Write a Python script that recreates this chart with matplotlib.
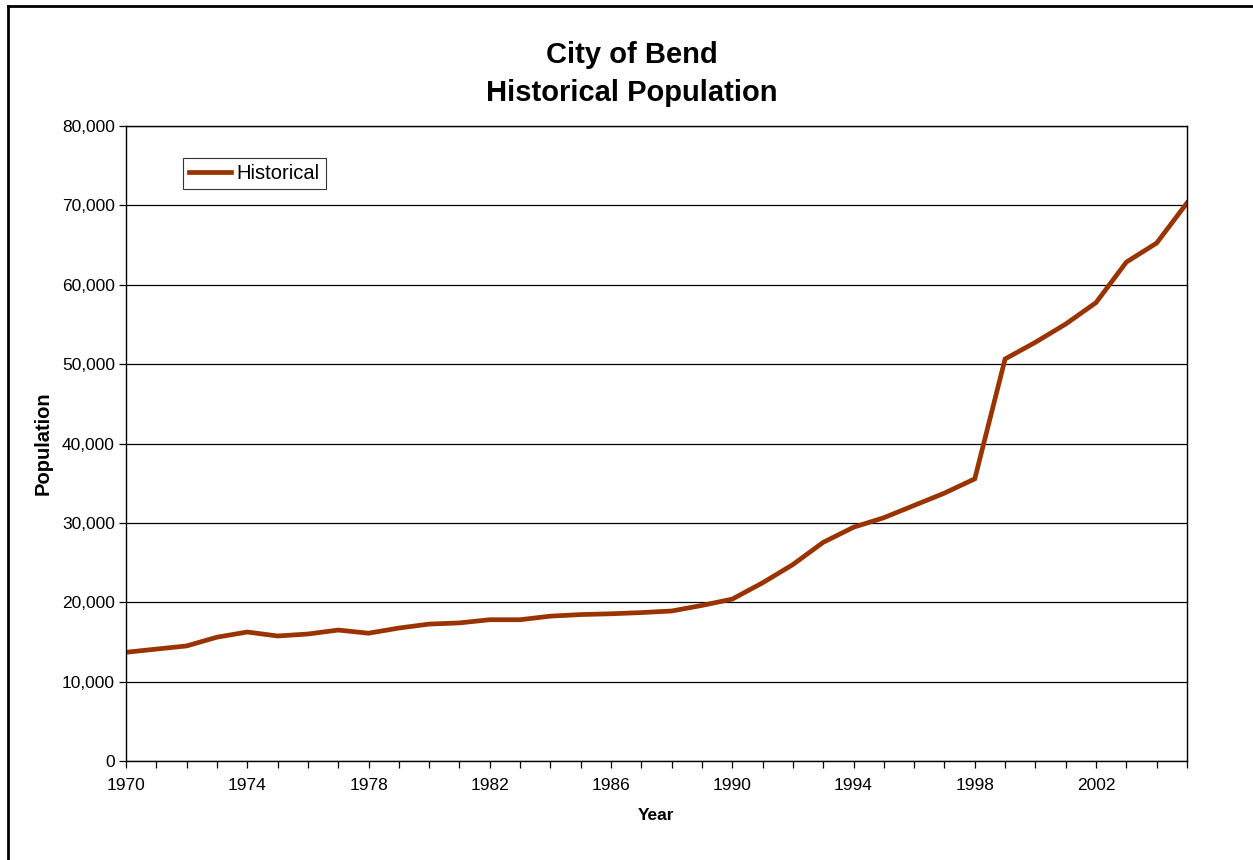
import matplotlib
matplotlib.use("Agg")
import matplotlib.pyplot as plt
from matplotlib.lines import Line2D
from matplotlib.ticker import FuncFormatter, MultipleLocator

years = list(range(1970, 2006))
population = [
    13700, 14100, 14500, 15600, 16250, 15750, 16000, 16500, 16100, 16750,
    17250, 17400, 17800, 17800, 18250, 18450, 18550, 18700, 18900, 19600,
    20400, 22450, 24750, 27550, 29450, 30650, 32200, 33750, 35550, 50650,
    52750, 55050, 57750, 62850, 65250, 70300,
]
year_ticks = list(range(1970, 2005, 4))

plt.rcParams['font.family'] = ['Liberation Sans', 'DejaVu Sans']

fig = plt.figure(figsize=(12.53, 8.6), dpi=100)
ax = fig.add_axes([0.1006, 0.1151, 0.8467, 0.7384])

ax.plot(years, population, color='#993300', linewidth=3.4, label='Historical',
        solid_joinstyle='miter')

ax.set_xlim(1970, 2005)
ax.set_ylim(0, 80000)
ax.yaxis.set_major_locator(MultipleLocator(10000))
ax.yaxis.set_major_formatter(FuncFormatter(lambda v, p: f"{int(v):,}"))
ax.set_xticks(year_ticks)
ax.xaxis.set_minor_locator(MultipleLocator(1))
ax.grid(axis='y', color='black', linewidth=0.9)
ax.set_axisbelow(True)

ax.tick_params(axis='both', which='both', direction='out', length=5, width=0.9,
               labelsize=12.5, colors='black')
ax.tick_params(axis='x', pad=7)
ax.tick_params(axis='y', pad=3)
for s in ax.spines.values():
    s.set_linewidth(1.0)
    s.set_color('black')

ax.set_xlabel('Year', fontsize=12.5, fontweight='bold', labelpad=11)
ax.set_ylabel('Population', fontsize=14.5, fontweight='bold', labelpad=7)

fig.text(0.504, 1 - 74 / 860, 'City of Bend\nHistorical Population', ha='center',
         va='center', fontsize=21, fontweight='bold', linespacing=1.42)

leg = ax.legend(loc='upper left', bbox_to_anchor=(0.0537, 0.95), fontsize=14.5,
                frameon=True, fancybox=False, shadow=False, handlelength=2.1,
                handletextpad=0.25, borderpad=0.3, borderaxespad=0)
leg.get_frame().set_edgecolor('black')
leg.get_frame().set_linewidth(0.8)

# outer chart border (top and left edges visible)
fig.add_artist(Line2D([8 / 1253, 8 / 1253], [0, 1 - 6 / 860], color='black',
                      linewidth=2, transform=fig.transFigure))
fig.add_artist(Line2D([8 / 1253, 1], [1 - 6 / 860, 1 - 6 / 860], color='black',
                      linewidth=2, transform=fig.transFigure))

fig.savefig('out.png', dpi=100)
